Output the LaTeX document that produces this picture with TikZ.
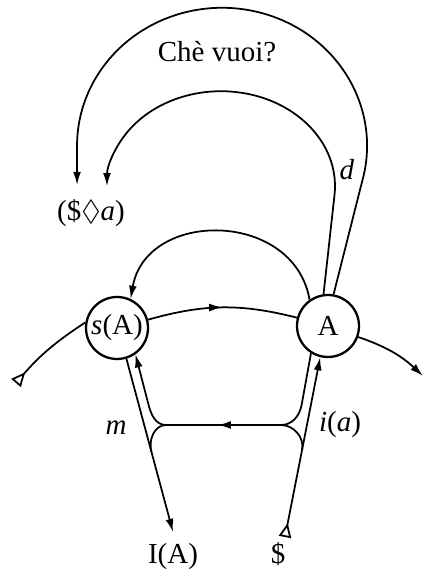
\documentclass[tikz,border=0pt]{standalone}
\usepackage{amssymb}
\usepackage{fontspec}
\setmainfont{Liberation Serif}
\usetikzlibrary{arrows.meta,decorations.markings}

\begin{document}
\begin{tikzpicture}[x=0.02cm,y=0.02cm,font=\fontsize{16.5}{19}\selectfont,
    circ/.style={draw,circle,line width=1.3pt,minimum size=1.24cm,inner sep=0pt},
    line/.style={line width=1pt},
    arr/.style={line width=1pt,-{Latex[length=7.5pt,width=4.5pt]}},
    backarr/.style={line width=1pt,{Latex[length=7.5pt,width=4.5pt]}-},
    tail/.style={line width=1pt,{Triangle[open,reversed,length=8pt,width=7pt]}-},
    tailarr/.style={line width=1pt,{Triangle[open,reversed,length=8pt,width=7pt]}-{Latex[length=7.5pt,width=4.5pt]}},
    midarr/.style={postaction={decorate},decoration={markings,
                   mark=at position #1 with {\arrow{Latex[length=7.5pt,width=4.5pt]}}}}]
  \useasboundingbox (0,0) rectangle (426,574);
  % the two points of the chain
  \node[circ] (sA) at (117,246) {\textit{s}(A)};
  \node[circ] (A)  at (328,248) {A};
  % texts
  \node (che)  at (217,522) {Chè vuoi?};
  \node (fant) at (91,361)  {(\$\ensuremath{\Diamond}\textit{a})};
  \node (d)    at (347,404) {\textit{d}};
  \node (m)    at (116,146) {\textit{m}};
  \node (ia)   at (340,149) {\textit{i}(\textit{a})};
  \node (IA)   at (173,17)  {I(A)};
  \node (S)    at (278,20)  {\$};
  % free ends and bends
  \coordinate (tailL) at (16,191);
  \coordinate (headR) at (423,198);
  \coordinate (IAtip) at (173,42);
  \coordinate (Stail) at (285,37);
  \coordinate (JL) at (166,149);
  \coordinate (JR) at (281,149);
  \coordinate (ul) at (148.6,169);
  \coordinate (ur) at (301.6,169);
  \coordinate (ll) at (151.4,122);
  \coordinate (lr) at (302.1,124);
  \coordinate (o1) at (362.1,392.5);
  \coordinate (i1) at (334.5,379);

  \draw[tail] (tailL) to[bend left=8] (sA.170);
  \draw[line,midarr=.5] (sA.15) to[bend left=15] (A.165);
  \draw[arr] (A.-20) to[bend left=12] (headR);

  \draw[arr] (sA.-73) -- (IAtip);
  \draw[tailarr] (Stail) -- (A.-104);
  \draw[backarr] (sA.-55) -- (ul) to[out=-75,in=180] (JL);
  \draw[line,midarr=.55] (JR) -- (JL);
  \draw[line] (JL) to[out=180,in=105] (ll);
  \draw[line] (A.-122) -- (ur) to[out=-101,in=0] (JR);
  \draw[line] (JR) to[out=0,in=79] (lr);

  \draw[arr] (A.80) -- (o1) arc[start angle=-15,end angle=180,x radius=145,y radius=138] -- ++(0,-39.2);
  \draw[arr] (A.98) -- (i1) arc[start angle=-5.3,end angle=180,x radius=114,y radius=95];
  \draw[arr] (A.125) to[out=100,in=80,looseness=1.3] (sA.65);
\end{tikzpicture}
\end{document}
